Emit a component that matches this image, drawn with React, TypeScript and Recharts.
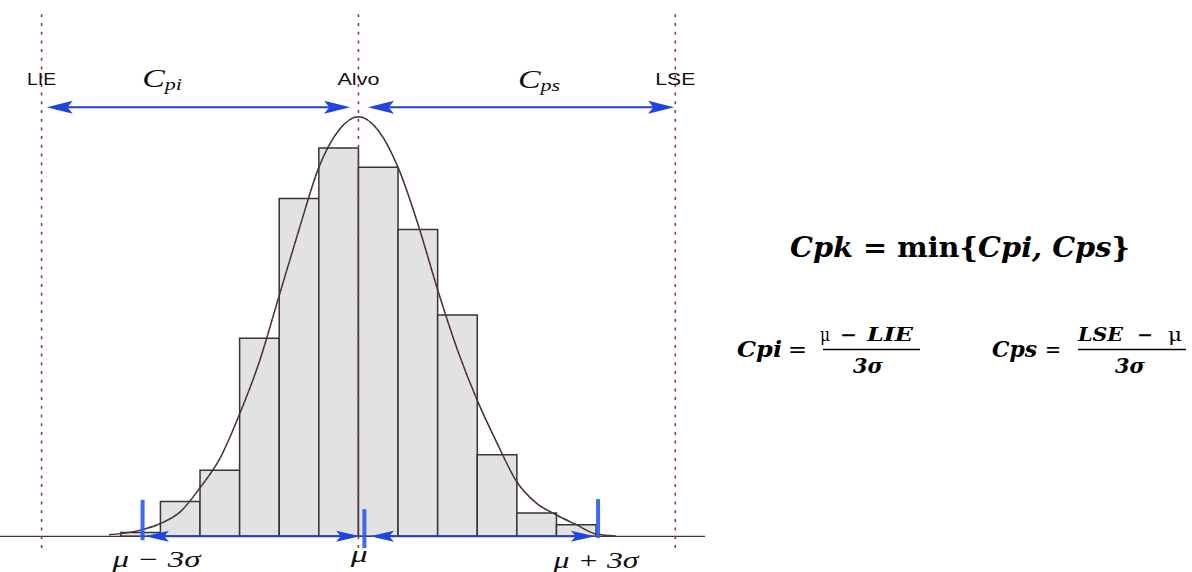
import React from 'react';
import {
  ComposedChart,
  Line,
  XAxis,
  YAxis,
  ReferenceArea,
  ReferenceLine,
  ReferenceDot,
} from 'recharts';

// histogram of the measured characteristic
const binEdges = [9.4, 9.5, 9.6, 9.7, 9.8, 9.9, 10.0, 10.1, 10.2, 10.3, 10.4, 10.5, 10.6];
const binCounts = [1, 9, 17, 51, 87, 100, 95, 79, 57, 21, 6, 3];

// fitted normal curve
const curveX = [9.37, 9.4, 9.45, 9.5, 9.55, 9.6, 9.65, 9.7, 9.75, 9.8, 9.85, 9.9, 9.95, 10.0,
  10.05, 10.1, 10.15, 10.2, 10.25, 10.3, 10.35, 10.4, 10.45, 10.5, 10.55, 10.6, 10.65];
const curveY = [0.4, 0.7, 1.6, 3.3, 6.3, 12.5, 20, 31.5, 45, 62, 79, 95, 104.5, 108,
  104.5, 95, 80.5, 63.5, 48, 35, 24, 14, 8.5, 5.5, 3, 0.6, 0.1];

// specification limits and target
const specNames = ['LIE', 'Alvo', 'LSE'];
const specValues = [9.2, 10.0, 10.8];

// process spread markers
const sigmaNames = ['μ − 3σ', 'μ', 'μ + 3σ'];
const sigmaValues = [9.455, 10.015, 10.605];

const curveData = curveX.map((x, i) => ({ x, y: curveY[i] }));

const X_DOMAIN: [number, number] = [9.095, 10.875];
const Y_DOMAIN: [number, number] = [-3, 135];
const ARROW_Y = 110.5;

const BLUE = '#1f45e0';
const SPEC_RED = '#8e3d42';

// double headed arrow drawn between the reference segment ends
const Arrow = (props: any) => {
  const { x1, y1, x2, y2, len = 26, half = 6.5 } = props;
  const d = x2 > x1 ? 1 : -1;
  const head = (tx: number, ty: number, s: number) =>
    `${tx},${ty} ${tx + s * len},${ty - half} ${tx + s * len * 0.8},${ty} ${tx + s * len},${ty + half}`;
  return (
    <g>
      <line x1={x1 + d * len * 0.8} y1={y1} x2={x2 - d * len * 0.8} y2={y2} stroke="#2342c4" strokeWidth={2} />
      <polygon points={head(x1, y1, d)} fill={BLUE} />
      <polygon points={head(x2, y2, -d)} fill={BLUE} />
    </g>
  );
};

const PlainLabel = (props: any) => {
  const { viewBox, text, dx = 0, dy = 0, size, family, italic, width } = props;
  if (!viewBox) return null;
  const x = viewBox.x + (viewBox.width || 0) / 2 + dx;
  const y = viewBox.y + dy;
  return (
    <text
      x={x}
      y={y}
      textAnchor="middle"
      fontSize={size}
      fontFamily={family}
      fontStyle={italic ? 'italic' : 'normal'}
      textLength={width}
      lengthAdjust="spacingAndGlyphs"
      fill="#111"
    >
      {text}
    </text>
  );
};

const SubLabel = (props: any) => {
  const { viewBox, main, sub, dy = 0, sx = 1.3 } = props;
  if (!viewBox) return null;
  return (
    <g transform={`translate(${viewBox.x},${viewBox.y + dy}) scale(${sx},1)`}>
      <text x={0} y={0} textAnchor="middle" fontFamily="Liberation Serif" fontStyle="italic" fill="#111">
        <tspan fontSize={26}>{main}</tspan>
        <tspan fontSize={17} dy={3}>{sub}</tspan>
      </text>
    </g>
  );
};

const specLabelWidth = [29, 42, 40];
const sigmaLabelDx = [14, -5, -2];
const sigmaLabelDy = [31, 26, 32];
const sigmaLabelWidth = [88, 17, 85];
const sigmaTickTop = [9.4, 7, 9.6];
const sigmaTickBottom = [-1, -3, -0.4];

// one piece of formula text, stretched to the width seen in the picture
const F = (p: { x: number; y: number; w: number; size: number; italic?: boolean; bold?: boolean; children: React.ReactNode }) => (
  <text
    x={p.x}
    y={p.y}
    fontFamily="DejaVu Serif"
    fontSize={p.size}
    fontWeight={p.bold === false ? 'normal' : 'bold'}
    fontStyle={p.italic ? 'italic' : 'normal'}
    textLength={p.w}
    lengthAdjust="spacingAndGlyphs"
    fill="#000"
  >
    {p.children}
  </text>
);

const FormulaPanel = () => (
  <svg width={1192} height={572} style={{ position: 'absolute', left: 0, top: 0, pointerEvents: 'none' }}>
    <text x={790} y={257} fontFamily="DejaVu Serif" fontWeight="bold" fontSize={27} textLength={340} lengthAdjust="spacingAndGlyphs" fill="#000">
      <tspan fontStyle="italic">Cpk</tspan>
      <tspan> = min{'{'}</tspan>
      <tspan fontStyle="italic">Cpi, Cps</tspan>
      <tspan>{'}'}</tspan>
    </text>

    {/* Cpi */}
    <F x={737} y={357} w={45} size={23} italic>Cpi</F>
    <F x={788} y={357} w={19} size={23} bold={false}>=</F>
    <F x={820} y={341} w={10} size={18} bold={false}>μ</F>
    <F x={840} y={341} w={17} size={18}>−</F>
    <F x={867} y={341} w={46} size={18} italic>LIE</F>
    <line x1={823} y1={349.5} x2={920} y2={349.5} stroke="#000" strokeWidth={1.6} />
    <F x={853} y={373} w={30} size={20} italic>3σ</F>

    {/* Cps */}
    <F x={992} y={357} w={45} size={23} italic>Cps</F>
    <F x={1045} y={357} w={16} size={23} bold={false}>=</F>
    <F x={1078} y={341} w={45} size={18} italic>LSE</F>
    <F x={1137} y={341} w={16} size={18}>−</F>
    <F x={1168} y={341} w={14} size={18} bold={false}>μ</F>
    <line x1={1078} y1={349.5} x2={1186} y2={349.5} stroke="#000" strokeWidth={1.6} />
    <F x={1115} y={373} w={30} size={20} italic>3σ</F>
  </svg>
);

export default function App() {
  return (
    <div style={{ position: 'absolute', left: 0, top: 0, width: 1192, height: 572, background: '#fff' }}>
      <ComposedChart
        width={1192}
        height={572}
        data={curveData}
        margin={{ top: 12, right: 487, bottom: 24, left: 0 }}
      >
        <XAxis type="number" dataKey="x" domain={X_DOMAIN} allowDataOverflow hide />
        <YAxis type="number" domain={Y_DOMAIN} allowDataOverflow hide />

        {/* Histogram bins */}
        {binCounts.map((c, i) => (
          <ReferenceArea
            key={`bin-${i}`}
            x1={binEdges[i]}
            x2={binEdges[i + 1]}
            y1={0}
            y2={c}
            fill="#e2e2e2"
            fillOpacity={1}
            stroke="#353535"
            strokeWidth={1.5}
          />
        ))}

        {/* Axis base line */}
        <ReferenceLine y={0} stroke="#3a3a3a" strokeWidth={1.3} />

        {/* Normal curve: dark line with red dashes on top */}
        <Line
          type="monotone"
          dataKey="y"
          stroke="#333"
          strokeWidth={1.5}
          dot={false}
          activeDot={false}
          isAnimationActive={false}
        />
        <Line
          type="monotone"
          dataKey="y"
          stroke="#e03030"
          strokeWidth={0.9}
          strokeDasharray="1.5 4"
          dot={false}
          activeDot={false}
          isAnimationActive={false}
        />

        {/* Spec limits and target */}
        {specValues.map((v, i) => (
          <ReferenceLine
            key={`spec-${i}`}
            x={v}
            stroke={SPEC_RED}
            strokeWidth={1.6}
            strokeDasharray="3 5.7"
            label={
              <PlainLabel
                text={specNames[i]}
                dy={85 - 12}
                size={17}
                family="Liberation Sans"
                width={specLabelWidth[i]}
              />
            }
          />
        ))}

        {/* Cpi / Cps arrows */}
        <ReferenceLine
          segment={[{ x: specValues[0] + 0.013, y: ARROW_Y }, { x: specValues[1] - 0.021, y: ARROW_Y }]}
          shape={(p: any) => <Arrow {...p} />}
        />
        <ReferenceLine
          segment={[{ x: specValues[1] + 0.024, y: ARROW_Y }, { x: specValues[2] - 0.003, y: ARROW_Y }]}
          shape={(p: any) => <Arrow {...p} />}
        />
        <ReferenceDot x={9.504} y={ARROW_Y} r={0} fill="none" stroke="none" label={<SubLabel main="C" sub="pi" dy={-20} sx={1.3} />} />
        <ReferenceDot x={10.456} y={ARROW_Y} r={0} fill="none" stroke="none" label={<SubLabel main="C" sub="ps" dy={-19} sx={1.3} />} />

        {/* 3 sigma arrows along the base */}
        <ReferenceLine
          segment={[{ x: sigmaValues[0] + 0.006, y: 0 }, { x: sigmaValues[1] - 0.011, y: 0 }]}
          shape={(p: any) => <Arrow {...p} len={24} half={5.5} />}
        />
        <ReferenceLine
          segment={[{ x: sigmaValues[1] + 0.014, y: 0 }, { x: sigmaValues[2] - 0.008, y: 0 }]}
          shape={(p: any) => <Arrow {...p} len={24} half={5.5} />}
        />

        {/* sigma tick marks and labels */}
        {sigmaValues.map((v, i) => (
          <ReferenceLine
            key={`sig-${i}`}
            segment={[{ x: v, y: sigmaTickTop[i] }, { x: v, y: sigmaTickBottom[i] }]}
            stroke="#2a5af0"
            strokeOpacity={0.9}
            strokeWidth={4}
          />
        ))}
        {sigmaValues.map((v, i) => (
          <ReferenceDot
            key={`sig-label-${i}`}
            x={v}
            y={0}
            r={0}
            fill="none"
            stroke="none"
            ifOverflow="visible"
            label={
              <PlainLabel
                text={sigmaNames[i]}
                dx={sigmaLabelDx[i]}
                dy={sigmaLabelDy[i]}
                size={23}
                family="Liberation Serif"
                italic
                width={sigmaLabelWidth[i]}
              />
            }
          />
        ))}
      </ComposedChart>
      <FormulaPanel />
    </div>
  );
}
